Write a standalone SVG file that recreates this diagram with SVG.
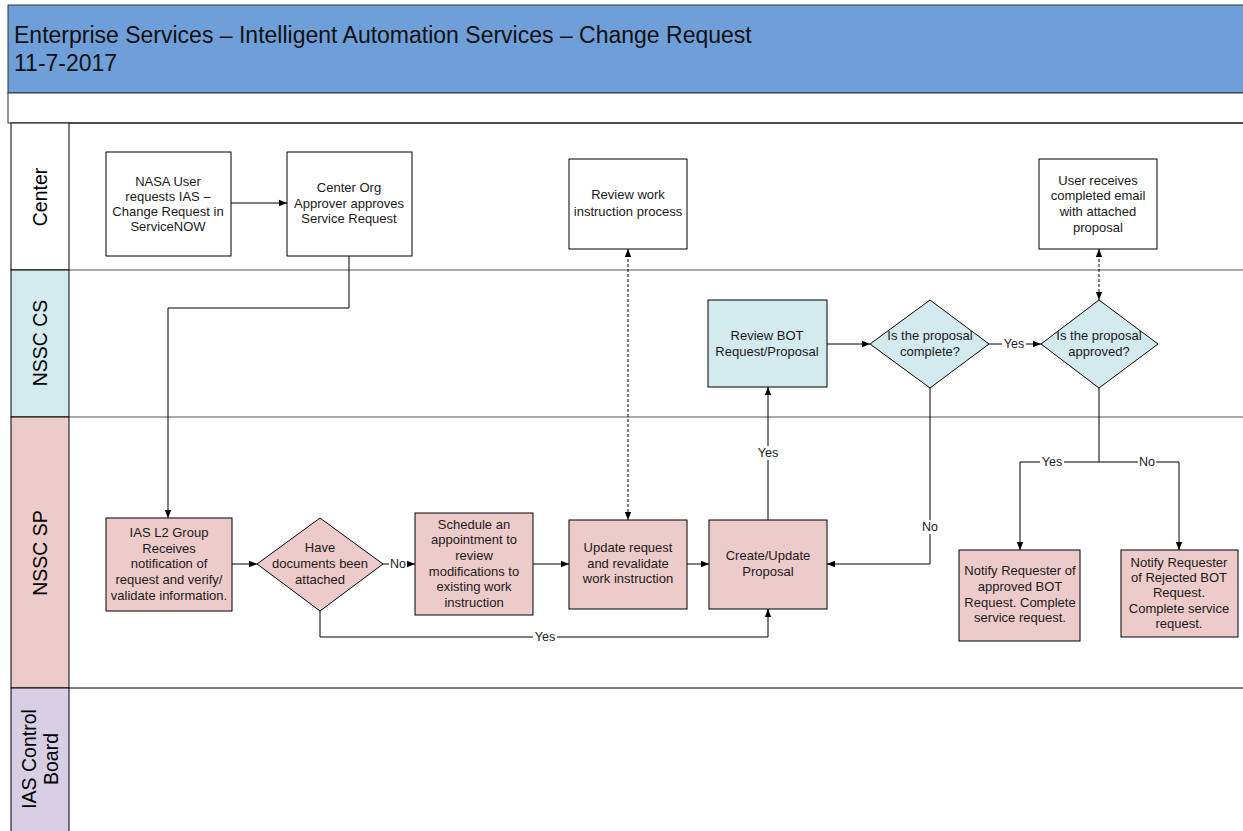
<svg xmlns="http://www.w3.org/2000/svg" width="1243" height="831" viewBox="0 0 1243 831">
<defs>
<style>
.box{stroke:#000;stroke-width:1}
.w{fill:#fff}.p{fill:#eccbca}.b{fill:#d3eaee}
.t{font-family:"Liberation Sans",Arial,sans-serif;font-size:13px;fill:#1a1a1a;text-anchor:middle}
.e{font-family:"Liberation Sans",Arial,sans-serif;font-size:12.5px;fill:#1a1a1a;text-anchor:middle}
.lane{font-family:"Liberation Sans",Arial,sans-serif;font-size:19.5px;fill:#000;text-anchor:middle}
.c{fill:none;stroke:#000;stroke-width:1}
.d{fill:none;stroke:#000;stroke-width:1;stroke-dasharray:3,2}
.lb{fill:#fff}
</style>
<marker id="a" viewBox="0 0 10 10" refX="10" refY="5" markerWidth="8" markerHeight="8" orient="auto" markerUnits="userSpaceOnUse"><path d="M0,1 L10,5 L0,9 z" fill="#000"/></marker>
<marker id="as" viewBox="0 0 10 10" refX="0" refY="5" markerWidth="8" markerHeight="8" orient="auto" markerUnits="userSpaceOnUse"><path d="M10,1 L0,5 L10,9 z" fill="#000"/></marker>
</defs>
<rect x="0" y="0" width="1243" height="831" fill="#fff"/>
<g id="header">
<rect x="8" y="5" width="1240" height="88" fill="#6f9fd9" stroke="#333" stroke-width="1"/>
<text x="14" y="43" font-family="'Liberation Sans',Arial,sans-serif" font-size="23" fill="#111">Enterprise Services – Intelligent Automation Services – Change Request</text>
<text x="14" y="71" font-family="'Liberation Sans',Arial,sans-serif" font-size="23" fill="#111">11-7-2017</text>
<rect x="8" y="93" width="1240" height="30" fill="#fff" stroke="#333" stroke-width="1"/>
</g>
<g id="lanes">
<rect x="11" y="123" width="58" height="147" fill="#fff" stroke="#000"/>
<rect x="11" y="270" width="58" height="147" fill="#d3eaee" stroke="#000"/>
<rect x="11" y="417" width="58" height="271" fill="#eccbca" stroke="#000"/>
<rect x="11" y="688" width="58" height="150" fill="#d8cfe4" stroke="#000"/>
<line x1="69" y1="123" x2="1243" y2="123" stroke="#000"/>
<line x1="69" y1="270" x2="1243" y2="270" stroke="#555"/>
<line x1="69" y1="417" x2="1243" y2="417" stroke="#555"/>
<line x1="69" y1="688" x2="1243" y2="688" stroke="#000"/>
<text class="lane" transform="translate(47,197) rotate(-90)">Center</text>
<text class="lane" transform="translate(47,343) rotate(-90)">NSSC CS</text>
<text class="lane" transform="translate(47,553) rotate(-90)">NSSC SP</text>
<text class="lane" transform="translate(36,759) rotate(-90)">IAS Control</text>
<text class="lane" transform="translate(58,759) rotate(-90)">Board</text>
</g>
<g id="connectors">
<line class="c" x1="231" y1="203" x2="287" y2="203" marker-end="url(#a)"/>
<polyline class="c" points="349,256 349,308 168,308 168,518" marker-end="url(#a)"/>
<line class="c" x1="232" y1="564" x2="257" y2="564" marker-end="url(#a)"/>
<line class="c" x1="383" y1="564" x2="415" y2="564" marker-end="url(#a)"/>
<polyline class="c" points="320,611 320,637 768,637 768,609" marker-end="url(#a)"/>
<line class="c" x1="533" y1="564" x2="569" y2="564" marker-end="url(#a)"/>
<line class="c" x1="687" y1="564" x2="709" y2="564" marker-end="url(#a)"/>
<line class="c" x1="768" y1="520" x2="768" y2="387" marker-end="url(#a)"/>
<line class="c" x1="827" y1="344" x2="870" y2="344" marker-end="url(#a)"/>
<line class="c" x1="989" y1="344" x2="1041" y2="344" marker-end="url(#a)"/>
<polyline class="c" points="930,388 930,564 827,564" marker-end="url(#a)"/>
<polyline class="c" points="1099,388 1099,462 1020,462 1020,550" marker-end="url(#a)"/>
<polyline class="c" points="1099,462 1179,462 1179,550" marker-end="url(#a)"/>
<line class="d" x1="628" y1="249" x2="628" y2="520" marker-start="url(#as)" marker-end="url(#a)"/>
<line class="d" x1="1099" y1="249" x2="1099" y2="300" marker-start="url(#as)" marker-end="url(#a)"/>
<rect class="lb" x="389" y="557" width="18" height="14"/>
<text class="e" x="398" y="568">No</text>
<rect class="lb" x="533" y="630" width="24" height="14"/>
<text class="e" x="545" y="641">Yes</text>
<rect class="lb" x="756" y="446" width="24" height="14"/>
<text class="e" x="768" y="457">Yes</text>
<rect class="lb" x="1002" y="337" width="24" height="14"/>
<text class="e" x="1014" y="348">Yes</text>
<rect class="lb" x="921" y="520" width="18" height="14"/>
<text class="e" x="930" y="531">No</text>
<rect class="lb" x="1040" y="455" width="24" height="14"/>
<text class="e" x="1052" y="466">Yes</text>
<rect class="lb" x="1138" y="455" width="18" height="14"/>
<text class="e" x="1147" y="466">No</text>
</g>
<g id="n-nasa">
<rect class="box w" x="106" y="152" width="125" height="104"/>
<text class="t" x="168" y="186">NASA User</text>
<text class="t" x="168" y="201">requests IAS –</text>
<text class="t" x="168" y="216">Change Request in</text>
<text class="t" x="168" y="231">ServiceNOW</text>
</g>
<g id="n-centerorg">
<rect class="box w" x="287" y="152" width="125" height="104"/>
<text class="t" x="349" y="192">Center Org</text>
<text class="t" x="349" y="208">Approver approves</text>
<text class="t" x="349" y="223">Service Request</text>
</g>
<g id="n-reviewwork">
<rect class="box w" x="569" y="159" width="118" height="90"/>
<text class="t" x="628" y="199">Review work</text>
<text class="t" x="628" y="216">instruction process</text>
</g>
<g id="n-userreceives">
<rect class="box w" x="1039" y="159" width="118" height="90"/>
<text class="t" x="1098" y="185">User receives</text>
<text class="t" x="1098" y="200">completed email</text>
<text class="t" x="1098" y="216">with attached</text>
<text class="t" x="1098" y="232">proposal</text>
</g>
<g id="n-reviewbot">
<rect class="box b" x="708" y="300" width="119" height="87"/>
<text class="t" x="767" y="340">Review BOT</text>
<text class="t" x="767" y="356">Request/Proposal</text>
</g>
<g id="n-complete">
<polygon class="box b" points="930,300 989,344 930,388 870,344"/>
<text class="t" x="930" y="340">Is the proposal</text>
<text class="t" x="930" y="356">complete?</text>
</g>
<g id="n-approved">
<polygon class="box b" points="1099,300 1158,344 1099,388 1041,344"/>
<text class="t" x="1099" y="340">Is the proposal</text>
<text class="t" x="1099" y="356">approved?</text>
</g>
<g id="n-iasl2">
<rect class="box p" x="106" y="518" width="126" height="93"/>
<text class="t" x="169" y="537">IAS L2 Group</text>
<text class="t" x="169" y="553">Receives</text>
<text class="t" x="169" y="568">notification of</text>
<text class="t" x="169" y="584">request and verify/</text>
<text class="t" x="169" y="600">validate information.</text>
</g>
<g id="n-havedocs">
<polygon class="box p" points="320,518 383,564 320,611 257,564"/>
<text class="t" x="320" y="552">Have</text>
<text class="t" x="320" y="568">documents been</text>
<text class="t" x="320" y="584">attached</text>
</g>
<g id="n-schedule">
<rect class="box p" x="415" y="513" width="118" height="102"/>
<text class="t" x="474" y="529">Schedule an</text>
<text class="t" x="474" y="544">appointment to</text>
<text class="t" x="474" y="560">review</text>
<text class="t" x="474" y="576">modifications to</text>
<text class="t" x="474" y="591">existing work</text>
<text class="t" x="474" y="607">instruction</text>
</g>
<g id="n-update">
<rect class="box p" x="569" y="520" width="118" height="89"/>
<text class="t" x="628" y="552">Update request</text>
<text class="t" x="628" y="568">and revalidate</text>
<text class="t" x="628" y="583">work instruction</text>
</g>
<g id="n-create">
<rect class="box p" x="709" y="520" width="118" height="89"/>
<text class="t" x="768" y="560">Create/Update</text>
<text class="t" x="768" y="576">Proposal</text>
</g>
<g id="n-notifyapproved">
<rect class="box p" x="959" y="550" width="121" height="91"/>
<text class="t" x="1020" y="575">Notify Requester of</text>
<text class="t" x="1020" y="591">approved BOT</text>
<text class="t" x="1020" y="607">Request. Complete</text>
<text class="t" x="1020" y="622">service request.</text>
</g>
<g id="n-notifyrejected">
<rect class="box p" x="1121" y="550" width="117" height="87"/>
<text class="t" x="1179" y="567">Notify Requester</text>
<text class="t" x="1179" y="582">of Rejected BOT</text>
<text class="t" x="1179" y="597">Request.</text>
<text class="t" x="1179" y="613">Complete service</text>
<text class="t" x="1179" y="628">request.</text>
</g>
</svg>
